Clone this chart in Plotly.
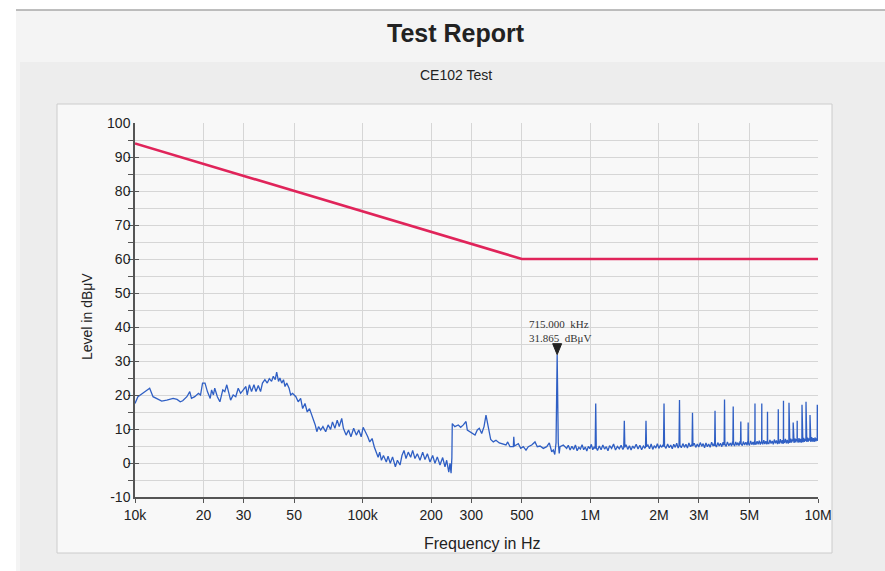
import math
import plotly.graph_objects as go

# ---------------- data (frequency in kHz, level in dBuV) ----------------
limit_freq_khz = [10, 500, 10000]
limit_level = [94, 60, 60]

# measured trace, 10 kHz - 50 kHz
trace_a = [(10.0, 17.5), (10.3, 19.5), (10.7, 20.3), (11.1, 21.0), (11.6, 22.0), (12.0, 19.5),
           (12.5, 18.8), (13.1, 18.2), (13.8, 18.5), (14.7, 19.0), (15.3, 18.7), (15.8, 18.0),
           (16.2, 18.3), (16.9, 19.5), (17.4, 21.0), (17.7, 19.0), (18.3, 19.5), (19.0, 20.5),
           (19.4, 20.0), (19.8, 23.5), (20.3, 23.5), (20.8, 21.0), (21.4, 19.0), (21.7, 21.5),
           (22.1, 20.0), (22.4, 22.0), (23.0, 19.5), (23.6, 18.0), (24.3, 21.5), (24.8, 21.0),
           (25.3, 23.0), (25.9, 20.5), (26.3, 18.5), (27.0, 20.0), (27.7, 19.5), (28.4, 22.0),
           (29.1, 20.5), (29.9, 21.5), (30.7, 22.5), (31.1, 20.0), (31.8, 23.0), (32.5, 21.0),
           (33.3, 23.0), (34.0, 21.0), (34.8, 22.8), (35.6, 21.0), (36.3, 23.5), (37.2, 24.5),
           (38.1, 23.5), (38.9, 24.8), (39.8, 24.0), (40.5, 25.5), (41.3, 24.5), (41.9, 26.7),
           (42.7, 24.0), (43.3, 25.0), (44.1, 23.5), (44.9, 24.5), (45.6, 22.5), (46.4, 23.5),
           (47.5, 22.0), (48.3, 20.0), (49.2, 20.5)]

# 50 kHz - 247 kHz
trace_b = [(50.9, 19.5), (52.1, 18.0), (53.4, 19.0), (54.5, 16.0), (55.8, 17.5), (57.1, 15.0),
           (58.4, 16.0), (59.8, 14.0), (60.8, 13.0), (61.9, 11.2), (62.9, 9.2), (64.0, 10.7),
           (65.4, 9.7), (66.9, 10.7), (68.8, 9.2), (70.5, 11.2), (72.3, 9.9), (73.7, 12.1),
           (75.5, 10.2), (77.3, 12.6), (78.9, 10.7), (80.9, 13.1), (82.3, 10.2), (84.6, 8.2),
           (86.7, 9.7), (88.8, 7.7), (91.3, 10.2), (93.8, 8.2), (96.1, 9.7), (98.5, 7.7),
           (100.5, 10.5), (102.9, 9.2), (105.3, 7.7), (107.4, 6.2), (110.0, 7.2), (112.5, 4.7),
           (114.4, 3.2), (116.9, 1.7), (118.8, 3.2), (120.9, 0.8), (123.4, 2.2), (127.0, 0.3),
           (129.3, 2.0), (132.2, -0.1), (135.3, 1.8), (139.2, -1.1), (142.1, 0.8), (145.9, -0.6),
           (148.8, 2.2), (151.9, 3.7), (155.0, 1.3), (158.6, 3.2), (162.5, 1.7), (165.8, 3.7),
           (169.7, 1.3), (173.8, 2.7), (178.6, 0.8), (183.5, 3.2), (187.8, 1.0), (192.4, 2.7),
           (197.6, 0.3), (203.0, 2.2), (207.8, -0.1), (212.7, 1.8), (218.6, -0.6), (224.6, 1.6),
           (229.9, -1.1), (233.9, 0.8), (238.9, -2.7), (241.9, -0.1), (244.5, -3.0), (246.5, 1.5)]

# 247 kHz - 790 kHz (incl. 715 kHz peak)
trace_c = [(247.5, 11.6), (254.0, 10.7), (263.0, 11.2), (269.5, 10.5), (276.8, 11.2), (284.4, 12.2),
           (288.2, 9.7), (296.1, 9.2), (304.3, 8.7), (311.5, 8.2), (318.8, 9.7), (325.3, 10.2),
           (333.3, 8.7), (341.2, 10.7), (348.1, 14.1), (356.3, 10.7), (365.1, 6.9), (374.8, 6.2),
           (385.1, 6.7), (398.2, 5.9), (412.1, 5.7), (426.1, 5.3), (433.5, 6.2), (443.8, 4.8),
           (459.0, 4.8), (461.0, 7.7), (464.0, 5.0), (471.6, 5.3), (482.7, 5.7), (494.5, 4.3),
           (507.6, 4.8), (521.7, 3.8), (534.0, 4.8), (552.6, 5.3), (571.4, 6.2), (584.8, 4.8),
           (601.2, 5.0), (621.6, 4.3), (643.3, 4.8), (660.4, 5.9), (676.6, 3.3), (687.6, 3.8),
           (698.0, 2.5), (707.0, 6.0), (715.0, 31.865), (723.0, 6.0), (730.0, 2.8), (736.0, 4.8),
           (761.0, 5.3), (787.0, 4.3)]

# 0.8 MHz - 10 MHz (harmonics)
trace_d = [(800, 5.2), (815, 3.8), (830, 4.9), (845, 4.0), (860, 5.3), (875, 3.6), (890, 4.6),
           (905, 4.1), (920, 5.4), (935, 3.9), (950, 4.7), (965, 3.5), (980, 4.9), (995, 4.2),
           (1010, 5.5), (1025, 3.9), (1040, 4.8), (1050, 4.2), (1056, 17.5), (1062, 4.5),
           (1075, 3.7), (1095, 5.0), (1115, 3.9), (1135, 5.3), (1155, 4.1), (1175, 4.8),
           (1195, 3.6), (1215, 5.1), (1240, 4.3), (1265, 5.6), (1290, 3.8), (1315, 4.9),
           (1340, 4.2), (1365, 5.2), (1390, 4.0), (1402, 4.5), (1410, 12.4), (1418, 4.6),
           (1435, 5.4), (1460, 4.0), (1485, 5.1), (1510, 3.8), (1535, 5.0), (1560, 4.3),
           (1590, 5.5), (1620, 4.1), (1650, 5.2), (1680, 3.9), (1710, 5.0), (1735, 4.4),
           (1747, 4.6), (1756, 12.4), (1765, 4.8), (1790, 5.3), (1820, 4.2), (1850, 5.6),
           (1880, 4.0), (1910, 5.1), (1940, 4.4), (1970, 5.7), (2000, 4.3), (2030, 5.2),
           (2060, 4.6), (2085, 5.4), (2096, 4.8), (2107, 17.5), (2118, 5.0), (2150, 4.3),
           (2185, 5.6), (2220, 4.5), (2255, 5.3), (2290, 4.2), (2325, 5.5), (2360, 4.6),
           (2395, 5.8), (2430, 4.4), (2452, 5.0), (2464, 18.5), (2476, 5.2), (2510, 4.5),
           (2550, 5.7), (2590, 4.6), (2630, 5.5), (2670, 4.4), (2710, 5.9), (2750, 4.8),
           (2785, 5.3), (2797, 4.9), (2810, 14.8), (2823, 5.1), (2860, 5.8), (2905, 4.6),
           (2950, 5.6), (2995, 4.7), (3040, 6.0), (3085, 4.9), (3130, 5.7), (3175, 4.5),
           (3220, 5.9), (3265, 4.8), (3310, 5.6), (3360, 4.6), (3410, 6.1), (3460, 5.0),
           (3500, 5.7), (3515, 5.0), (3529, 15.4), (3543, 5.3), (3580, 4.7), (3630, 6.0),
           (3680, 5.0), (3730, 5.8), (3780, 4.8), (3830, 6.1), (3860, 5.2), (3870, 5.4),
           (3885, 18.7), (3900, 5.6), (3950, 4.9), (4000, 6.2), (4060, 5.1), (4120, 5.9),
           (4170, 5.0), (4215, 6.3), (4228, 5.4), (4242, 16.6), (4256, 5.6), (4300, 5.0),
           (4350, 6.2), (4400, 5.2), (4450, 6.0), (4500, 5.1), (4550, 6.4), (4568, 5.5),
           (4581, 12.2), (4594, 5.7), (4650, 5.1), (4700, 6.3), (4760, 5.3), (4820, 6.1),
           (4880, 5.2), (4915, 6.4), (4925, 5.6), (4935, 11.9), (4945, 5.8), (5000, 5.2),
           (5060, 6.5), (5120, 5.4), (5180, 6.2), (5240, 5.3), (5270, 6.6), (5280, 5.8),
           (5287, 17.5), (5295, 6.0), (5340, 5.4), (5400, 6.4), (5460, 5.5), (5520, 6.6),
           (5580, 5.4), (5630, 6.3), (5655, 5.8), (5663, 17.5), (5672, 6.0), (5720, 5.5),
           (5780, 6.7), (5840, 5.6), (5900, 6.4), (5960, 5.5), (5990, 6.0), (6000, 15.1),
           (6010, 6.1), (6080, 5.6), (6150, 6.8), (6220, 5.7), (6290, 6.5), (6360, 5.5),
           (6430, 6.9), (6500, 5.8), (6570, 6.6), (6640, 5.6), (6680, 6.2), (6692, 15.8),
           (6704, 6.4), (6760, 5.7), (6830, 7.0), (6900, 5.8), (6970, 6.7), (7020, 5.6),
           (7045, 6.3), (7053, 18.3), (7062, 6.5), (7120, 5.9), (7190, 7.1), (7260, 5.8),
           (7330, 6.8), (7400, 5.7), (7448, 6.5), (7457, 17.7), (7466, 6.7), (7520, 5.9),
           (7590, 7.2), (7650, 6.0), (7720, 6.9), (7770, 6.4), (7780, 11.9), (7790, 6.6),
           (7850, 5.9), (7920, 7.2), (7990, 6.1), (8050, 7.0), (8092, 6.5), (8102, 12.4),
           (8112, 6.7), (8180, 6.0), (8250, 7.3), (8320, 6.1), (8390, 7.1), (8450, 6.0),
           (8496, 6.6), (8506, 17.1), (8516, 6.8), (8580, 6.1), (8650, 7.4), (8720, 6.2),
           (8790, 7.1), (8848, 6.5), (8858, 18.0), (8868, 6.7), (8930, 6.2), (9000, 7.5),
           (9070, 6.3), (9140, 7.2), (9214, 6.6), (9224, 14.1), (9234, 6.8), (9300, 6.2),
           (9380, 7.6), (9460, 6.3), (9540, 7.3), (9620, 6.2), (9700, 7.5), (9780, 6.4),
           (9860, 7.2), (9920, 6.6), (9929, 17.1), (9938, 6.8), (10000, 6.5)]

marker_freq_khz = 715.0
marker_level = 31.865

x_tickvals = [1e4, 2e4, 3e4, 5e4, 1e5, 2e5, 3e5, 5e5, 1e6, 2e6, 3e6, 5e6, 1e7]
x_ticktext = ["10k", "20", "30", "50", "100k", "200", "300", "500", "1M", "2M", "3M", "5M", "10M"]
y_tickvals = [-10, 0, 10, 20, 30, 40, 50, 60, 70, 80, 90, 100]
y_ticktext = ["-10", "0", "10", "20", "30", "40", "50", "60", "70", "80", "90", "100"]

# ---------------- figure ----------------
W, H = 885, 571
meas = trace_a + trace_b + trace_c + trace_d
meas_x = [f * 1e3 for f, _ in meas]
meas_y = [v for _, v in meas]

fig = go.Figure()
fig.add_trace(go.Scatter(x=[f * 1e3 for f in limit_freq_khz], y=limit_level, mode="lines",
                         line=dict(color="#e0245a", width=2.6), hoverinfo="skip", showlegend=False))
fig.add_trace(go.Scatter(x=meas_x, y=meas_y, mode="lines",
                         line=dict(color="#2f5fc4", width=1.3), showlegend=False))


def px(x):
    return x / W


def py(y):
    return 1 - y / H


shapes = [
    dict(type="rect", xref="paper", yref="paper", x0=px(16), x1=1, y0=0, y1=py(10),
         fillcolor="#f4f4f4", line=dict(width=0), layer="below"),
    dict(type="rect", xref="paper", yref="paper", x0=px(20), x1=1, y0=0, y1=py(62),
         fillcolor="#ededed", line=dict(width=0), layer="below"),
    dict(type="line", xref="paper", yref="paper", x0=px(16), x1=1, y0=py(10), y1=py(10),
         line=dict(color="#a8a8a8", width=1.5), layer="below"),
    dict(type="rect", xref="paper", yref="paper", x0=px(57), x1=px(832), y0=py(553), y1=py(104),
         fillcolor="#f8f8f8", line=dict(color="#cccccc", width=1), layer="below"),
    # marker triangle (pixel-sized, anchored at the peak)
    dict(type="path", xref="x", yref="y", xsizemode="pixel", ysizemode="pixel",
         xanchor=marker_freq_khz * 1e3, yanchor=marker_level,
         path="M-4.5,11 L4.5,11 L0,0 Z", fillcolor="#222222", line=dict(color="#222222", width=1)),
]

mx = math.log10(marker_freq_khz * 1e3)
annotations = [
    dict(text="<b>Test Report</b>", x=px(456), y=py(33), xref="paper", yref="paper",
         xanchor="center", yanchor="middle", showarrow=False,
         font=dict(family="Liberation Sans", size=25, color="#222222")),
    dict(text="CE102 Test", x=px(456), y=py(75), xref="paper", yref="paper",
         xanchor="center", yanchor="middle", showarrow=False,
         font=dict(family="Liberation Sans", size=14, color="#222222")),
    dict(text="Frequency in Hz", x=px(482), y=py(543), xref="paper", yref="paper",
         xanchor="center", yanchor="middle", showarrow=False,
         font=dict(family="Liberation Sans", size=16, color="#222222")),
    dict(text="Level in dBμV", x=px(87), y=py(317), xref="paper", yref="paper", textangle=-90,
         xanchor="center", yanchor="middle", showarrow=False,
         font=dict(family="Liberation Sans", size=14, color="#222222")),
    dict(text="715.000  kHz", x=mx, y=marker_level, xref="x", yref="y", xanchor="left",
         yanchor="middle", xshift=-30, yshift=31, showarrow=False,
         font=dict(family="Liberation Serif", size=11, color="#333333")),
    dict(text="31.865  dBμV", x=mx, y=marker_level, xref="x", yref="y", xanchor="left",
         yanchor="middle", xshift=-30, yshift=17, showarrow=False,
         font=dict(family="Liberation Serif", size=11, color="#333333")),
]

fig.update_layout(
    width=W, height=H,
    margin=dict(l=0, r=0, t=0, b=0),
    paper_bgcolor="#ffffff",
    plot_bgcolor="rgba(0,0,0,0)",
    shapes=shapes,
    annotations=annotations,
    font=dict(family="Liberation Sans", size=14, color="#222222"),
    xaxis=dict(type="log", range=[4, 7], domain=[px(135), px(818)],
               tickvals=x_tickvals, ticktext=x_ticktext, ticks="outside", ticklen=4,
               tickcolor="#555555", showgrid=True, gridcolor="#d6d6d6", gridwidth=1,
               showline=True, linecolor="#555555", linewidth=1.5, zeroline=False,
               tickfont=dict(size=14), automargin=False, ticklabelstandoff=0),
    yaxis=dict(range=[-10, 100], domain=[py(497), py(123)],
               tickvals=y_tickvals, ticktext=y_ticktext,
               ticks="inside", ticklen=4, tickcolor="#555555",
               showgrid=True, gridcolor="#d6d6d6", gridwidth=1,
               minor=dict(dtick=5, tick0=0, showgrid=True, gridcolor="#d6d6d6",
                          ticks="outside", ticklen=5, tickcolor="#555555"),
               showline=True, linecolor="#555555", linewidth=1.5, zeroline=False,
               tickfont=dict(size=14), automargin=False),
)

fig.write_html("out.html", config={"displayModeBar": False},
               post_script="document.body.style.margin='0px';")
